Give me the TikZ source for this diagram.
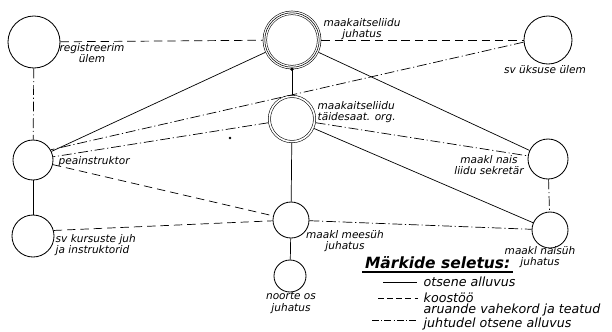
\documentclass[tikz,border=0pt]{standalone}
\usepackage{fontspec}
\setsansfont{DejaVu Sans}
\usetikzlibrary{positioning}

\begin{document}
\begin{tikzpicture}[
  x=0.025cm, y=-0.025cm,
  every node/.style={align=center, font=\sffamily\itshape\fontsize{7.5}{8}\selectfont},
  unit/.style={circle, draw, line width=0.6pt, inner sep=0pt},
  lbl/.style={inner sep=1pt},
  legtext/.style={anchor=west, align=left, inner sep=1pt, font=\sffamily\itshape\fontsize{9}{8}\selectfont},
  direct/.style={line width=0.5pt},
  coop/.style={line width=0.5pt, dash pattern=on 6pt off 3.5pt},
  report/.style={line width=0.5pt, dash pattern=on 7pt off 2pt on 0.8pt off 2pt}
]
\useasboundingbox (0,0) rectangle (612,331);

% Top row
\node[unit, minimum size=1.3cm] (reg) at (34,42) {};
\node[unit, minimum size=1.36cm, double, double distance=2.2pt, line width=0.4pt, outer sep=1.5pt] (juh) at (292,40) {};
\draw[line width=0.4pt] (juh.center) circle [radius=0.68cm];
\node[unit, minimum size=1.2cm] (sv) at (548,40) {};

% Middle row
\node[unit, minimum size=1.13cm, double, double distance=1.2pt, line width=0.4pt, outer sep=1pt] (taid) at (292,119) {};
\node[unit, minimum size=1.0cm] (pea) at (33,160) {};
\node[unit, minimum size=1.0cm] (nais) at (548,159) {};

% Bottom row
\node[unit, minimum size=1.05cm] (kurs) at (33,236) {};
\node[unit, minimum size=0.9cm] (mees) at (291,220) {};
\node[unit, minimum size=0.9cm] (naisuh) at (550,230) {};
\node[unit, minimum size=0.8cm] (noorte) at (290,276) {};

% Labels
\node[lbl] (regl) at (92,53) {registreerim\\ülem};
\node[lbl] (juhl) at (362,29) {maakaitseliidu\\juhatus};
\node[lbl] (svl) at (545,70) {sv üksuse ülem};
\node[lbl, anchor=west, align=left] (taidl) at (316,112) {maakaitseliidu\\täidesaat. org.};
\node[lbl, anchor=west] (peal) at (57,162) {peainstruktor};
\node[lbl] (naisl) at (489,165) {maakl nais\\liidu sekretär};
\node[lbl] (meesl) at (345,241) {maakl meesüh\\juhatus};
\node[lbl, anchor=west, align=left] (kursl) at (54,245) {sv kursuste juh\\ja instruktorid};
\node[lbl] (naisuhl) at (540,257) {maakl naisüh\\juhatus};
\node[lbl] (noortel) at (291,303) {noorte os\\juhatus};

% Connectors
\draw[coop] (reg) -- (juh);
\draw[coop] (juh) -- (sv);
\draw[report] (reg) -- (pea);
\draw[direct] (pea) -- (kurs);
\draw[direct] (juh) -- (pea);
\draw[direct] (juh) -- (taid);
\draw[direct] (juh) -- (nais);
\draw[direct] (taid) -- (naisuh);
\draw[report] (sv.185) -- (pea.30);
\draw[report] (taid) -- (pea);
\draw[report] (taid) -- (nais);
\draw[coop] (pea) -- (mees);
\draw[coop] (kurs.15) -- (mees);
\draw[report] (mees) -- (naisuh);
\draw[report] (nais) -- (naisuh);
\draw[direct] (taid) -- (mees);
\draw[direct] (mees) -- (noorte);
\fill (juh.south) circle [radius=1.3pt];
\fill (230,138) circle [radius=1pt];

% Legend
\node[anchor=west, inner sep=2pt, font=\sffamily\bfseries\itshape\fontsize{11}{13}\selectfont] (head) at (362,263) {Märkide seletus:};
\draw[line width=1pt] (head.south west) -- (head.south east);
\node[legtext] (t1) at (422,282) {otsene alluvus};
\node[legtext] (t2) at (422,298) {koostöö};
\node[legtext] (t3) at (422,317) {aruande vahekord ja teatud\\juhtudel otsene alluvus};
\coordinate (s1) at (383,282);
\coordinate (s2) at (378,298);
\coordinate (s3) at (372,320);
\draw[direct] (s1) -- (t1.west -| {(417,0)});
\draw[line width=0.5pt, dash pattern=on 4pt off 2.5pt] (s2) -- (t2.west -| {(418,0)});
\draw[line width=0.5pt, dash pattern=on 5pt off 1.5pt on 0.8pt off 1.5pt] (s3) -- (s3 -| {(418,0)});

\end{tikzpicture}
\end{document}
